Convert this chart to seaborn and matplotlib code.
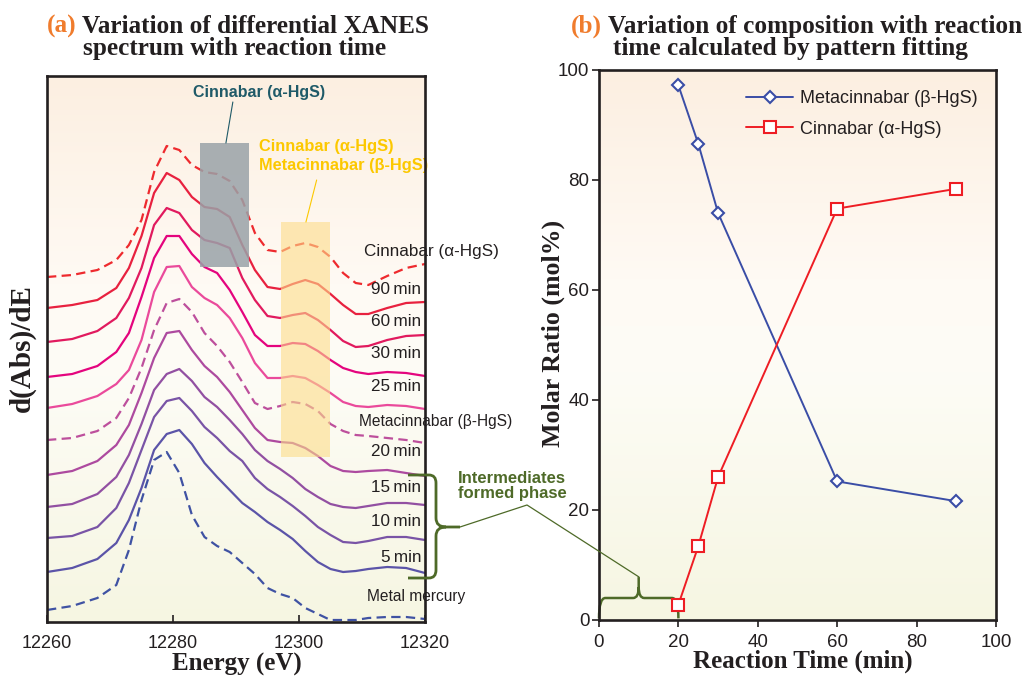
import numpy as np
import pandas as pd
import matplotlib
matplotlib.use("Agg")
import matplotlib.pyplot as plt
import seaborn as sns
from matplotlib.colors import LinearSegmentedColormap
from matplotlib.path import Path
from matplotlib.patches import PathPatch, Rectangle
from matplotlib.lines import Line2D

# ---------------- data: panel (a) differential XANES (offset arbitrary units) -------------
energy = [12260, 12264, 12268, 12271, 12273, 12275, 12277, 12279, 12281, 12283, 12285,
          12287, 12289, 12291, 12293, 12295, 12297, 12299, 12301, 12303, 12305, 12307,
          12309, 12311, 12314, 12317, 12320]

spec_cinnabar = [345, 347, 352, 362, 377, 402, 450, 476, 472, 457, 450, 448, 441, 422, 389,
                 372, 370, 376, 379, 375, 365, 349, 339, 337, 346, 354, 358]
spec_90min = [314, 317, 322, 334, 354, 386, 429, 449, 442, 425, 415, 413, 405, 377, 352,
              335, 333, 338, 342, 338, 328, 317, 308, 308, 314, 319, 320]
spec_60min = [280, 283, 291, 304, 324, 354, 397, 414, 409, 392, 382, 379, 374, 344, 322,
              306, 304, 307, 309, 302, 292, 281, 275, 276, 282, 286, 287]
spec_30min = [245, 248, 256, 270, 289, 325, 364, 386, 386, 368, 355, 349, 332, 310, 287,
              276, 276, 279, 278, 271, 262, 254, 250, 248, 250, 249, 246]
spec_25min = [214, 218, 226, 238, 252, 282, 330, 355, 356, 335, 324, 317, 304, 284, 259,
              244, 244, 246, 244, 237, 229, 220, 216, 215, 217, 216, 213]
spec_metacinnabar = [182, 184, 191, 204, 224, 254, 292, 319, 323, 310, 289, 276, 260, 240,
                     219, 213, 216, 220, 218, 211, 198, 191, 187, 186, 184, 182, 179]
spec_20min = [147, 151, 161, 177, 197, 229, 264, 289, 291, 272, 256, 245, 230, 212, 194,
              182, 180, 179, 174, 166, 156, 151, 150, 151, 152, 149, 146]
spec_15min = [115, 118, 128, 145, 167, 198, 232, 248, 253, 241, 225, 215, 202, 188, 172,
              161, 153, 144, 133, 125, 118, 115, 114, 116, 119, 119, 117]
spec_10min = [84, 86, 95, 114, 139, 172, 205, 221, 224, 211, 195, 184, 171, 161, 144, 133,
              125, 116, 106, 95, 87, 80, 79, 81, 85, 85, 82]
spec_5min = [50, 54, 63, 79, 102, 134, 172, 188, 192, 178, 159, 145, 132, 119, 110, 100,
             92, 83, 71, 60, 53, 50, 51, 53, 55, 54, 49]
spec_metal_hg = [12, 16, 24, 37, 72, 122, 162, 170, 149, 107, 85, 76, 70, 59, 48, 34, 28,
                 24, 14, 8, 2, 2, 2, 4, 5, 5, 3]

curve_labels = ["Cinnabar (α-HgS)", "90\u2009min", "60\u2009min", "30\u2009min", "25\u2009min",
                "Metacinnabar (β-HgS)", "20\u2009min", "15\u2009min", "10\u2009min", "5\u2009min",
                "Metal mercury"]
energy_ticks = [12260, 12280, 12300, 12320]

# ---------------- data: panel (b) composition ----------------
reaction_time = [20, 25, 30, 60, 90]
metacinnabar_pct = [97.2, 86.6, 74.0, 25.2, 21.6]
cinnabar_pct = [2.8, 13.4, 26.0, 74.8, 78.4]
time_ticks = [0, 20, 40, 60, 80, 100]
ratio_ticks = [0, 20, 40, 60, 80, 100]

# ---------------- styles ----------------
spectra = [spec_cinnabar, spec_90min, spec_60min, spec_30min, spec_25min, spec_metacinnabar,
           spec_20min, spec_15min, spec_10min, spec_5min, spec_metal_hg]
spec_colors = ["#ee2a2e", "#e8213f", "#e11a5e", "#e4047e", "#ea4a9b", "#bd4f9c",
               "#ad4a9f", "#9250a2", "#7954a6", "#5b54a8", "#3f52a3"]
spec_dashed = [True, False, False, False, False, True, False, False, False, False, True]

sns.set_theme(style="ticks")
plt.rcParams["font.family"] = ["Liberation Sans", "DejaVu Sans"]

W, H = 1027, 678
fig = plt.figure(figsize=(W / 100, H / 100), dpi=100)


def fx(px):
    return px / W


def fy(py):
    return 1 - py / H


axA = fig.add_axes([fx(47), fy(622), fx(425) - fx(47), fy(76) - fy(622)])
axB = fig.add_axes([fx(599), fy(620), fx(996) - fx(599), fy(70) - fy(620)])

bg_cmap = LinearSegmentedColormap.from_list(
    "bg", [(0.0, "#f6f6e2"), (0.45, "#fdfcf6"), (0.62, "#fffaf4"), (1.0, "#fcefe1")])


def gradient(ax, x0, x1, y0, y1):
    g = np.linspace(0, 1, 256).reshape(-1, 1)
    ax.imshow(g, extent=[x0, x1, y0, y1], origin="lower", aspect="auto",
              cmap=bg_cmap, zorder=0)


# ---------------- panel (a) ----------------
gradient(axA, 12260, 12320, 0, 546)
for vals, col, dashed in zip(spectra, spec_colors, spec_dashed):
    ls = (0, (4.2, 2.4)) if dashed else "-"
    sns.lineplot(x=energy, y=vals, ax=axA, color=col, linestyle=ls, linewidth=1.6,
                 zorder=2, solid_joinstyle="round", dash_joinstyle="round",
                 solid_capstyle="round")

axA.add_patch(Rectangle((12284.3, 355), 7.8, 124, facecolor="#99a2a8", alpha=0.85,
                        edgecolor="none", zorder=3))
axA.add_patch(Rectangle((12297.1, 165), 7.8, 235, facecolor="#fddc89", alpha=0.6,
                        edgecolor="none", zorder=3))

axA.text(12293.7, 530, "Cinnabar (α-HgS)", color="#1f5a68", fontsize=11.5,
         fontweight="bold", ha="center", va="center", zorder=5)
axA.plot([12289.5, 12288.4], [520, 479], color="#1f5a68", lw=0.8, zorder=5)
axA.text(12293.6, 466, "Cinnabar (α-HgS)\nMetacinnabar (β-HgS)", color="#fcc800",
         fontsize=11.8, fontweight="bold", ha="left", va="center", linespacing=1.4,
         zorder=5)
axA.plot([12302.8, 12301.1], [442, 400], color="#fcc800", lw=0.8, zorder=5)

label_x = [12310.3, 12319.4, 12319.4, 12319.4, 12319.4, 12309.5, 12319.4, 12319.4,
           12319.4, 12319.4, 12310.8]
label_y = [370, 332, 300, 268, 235, 200, 170, 135, 100, 64, 25]
for txt, lx, ly in zip(curve_labels, label_x, label_y):
    is_phase = not txt.endswith("min")
    axA.text(lx, ly, txt, fontsize=11.2 if txt.startswith("Meta") else 12.3,
             color="#231f20", ha="left" if is_phase else "right", va="center",
             clip_on=False, zorder=6)

axA.set_xlim(12260, 12320)
axA.set_ylim(0, 546)
axA.set_xticks(energy_ticks)
axA.set_xticklabels([str(t) for t in energy_ticks])
axA.set_yticks([])
axA.tick_params(axis="x", direction="in", length=5, width=1.2, pad=9, labelsize=13,
                colors="#231f20")
axA.set_xlabel("")
axA.set_ylabel("")
for s in axA.spines.values():
    s.set_linewidth(1.9)
    s.set_color("#231f20")
    s.set_zorder(7)

# ---------------- panel (b) ----------------
gradient(axB, 0, 100, 0, 100)
sns.lineplot(x=reaction_time, y=metacinnabar_pct, ax=axB, color="#3a4da6", linewidth=1.4,
             marker="D", markersize=6.5, markerfacecolor="white", markeredgecolor="#3a4da6",
             markeredgewidth=1.5, label="Metacinnabar (β-HgS)", zorder=4)
sns.lineplot(x=reaction_time, y=cinnabar_pct, ax=axB, color="#ee1d24", linewidth=1.4,
             marker="s", markersize=8.5, markerfacecolor="white", markeredgecolor="#ee1d24",
             markeredgewidth=1.5, label="Cinnabar (α-HgS)", zorder=4)
axB.set_xlim(0, 100)
axB.set_ylim(0, 100)
axB.set_xticks(time_ticks)
axB.set_yticks(ratio_ticks)
axB.tick_params(axis="both", direction="out", length=5, width=1.2, labelsize=13.5,
                colors="#231f20")
axB.tick_params(axis="x", pad=5)
axB.tick_params(axis="y", pad=2)
axB.set_xlabel("")
axB.set_ylabel("")
for s in axB.spines.values():
    s.set_linewidth(1.9)
    s.set_color("#231f20")
    s.set_zorder(7)
leg = axB.legend(loc="upper left", bbox_to_anchor=(0.33, 0.993), frameon=False,
                 fontsize=13, handlelength=2.6, labelspacing=0.75, handletextpad=0.4)
for t in leg.get_texts():
    t.set_color("#231f20")

# green brace in panel (b)
green = "#4e6a28"
bverts = [(0, 0.3), (0, 4.0), (1.6, 4.0), (8.6, 4.0), (10, 4.0), (10, 6.0), (10, 7.8),
          (10, 6.0), (10, 4.0), (11.4, 4.0), (18.4, 4.0), (20, 4.0), (20, 0.3)]
bcodes = [Path.MOVETO, Path.CURVE3, Path.CURVE3, Path.LINETO, Path.CURVE3, Path.CURVE3,
          Path.LINETO, Path.MOVETO, Path.CURVE3, Path.CURVE3, Path.LINETO, Path.CURVE3,
          Path.CURVE3]
axB.add_patch(PathPatch(Path(bverts, bcodes), fill=False, edgecolor=green, lw=1.8,
                        zorder=3, clip_on=False))

# green brace beside panel (a) and connector (figure pixels)
lb = [(408, 475), (429, 475), (436, 475), (436, 483), (436, 518), (436, 527), (446, 527),
      (460, 527), (446, 527), (436, 527), (436, 536), (436, 570), (436, 578), (429, 578),
      (408, 578)]
lcodes = [Path.MOVETO, Path.LINETO, Path.CURVE3, Path.CURVE3, Path.LINETO, Path.CURVE3,
          Path.CURVE3, Path.LINETO, Path.MOVETO, Path.CURVE3, Path.CURVE3, Path.LINETO,
          Path.CURVE3, Path.CURVE3, Path.LINETO]
fig.add_artist(PathPatch(Path([(fx(a), fy(b)) for a, b in lb], lcodes), fill=False,
                         edgecolor=green, lw=2.0, transform=fig.transFigure, zorder=8))
fig.add_artist(Line2D([fx(460), fx(527), fx(639)], [fy(527), fy(505), fy(577)],
                      color=green, lw=0.9, transform=fig.transFigure, zorder=8))
fig.text(fx(512), fy(486), "Intermediates\nformed phase", color=green, fontsize=12,
         fontweight="bold", ha="center", va="center", linespacing=1.0)

# ---------------- titles and axis labels ----------------
serif = ["Liberation Serif", "DejaVu Serif"]
tk = dict(family=serif, fontweight="bold", fontsize=18.2, va="baseline", color="#231f20")
fig.text(fx(47), fy(33), "(a)", **{**tk, "color": "#f07c2d"})
fig.text(fx(82), fy(33), "Variation of differential XANES", **tk)
fig.text(fx(83), fy(55), "spectrum with reaction time", **tk)
fig.text(fx(571), fy(33), "(b)", **{**tk, "color": "#f07c2d"})
fig.text(fx(608), fy(33), "Variation of composition with reaction", **tk)
fig.text(fx(613), fy(55), "time calculated by pattern fitting", **tk)

lk = dict(family=serif, fontweight="bold", color="#231f20", ha="center", va="center")
fig.text(fx(237), fy(664), "Energy (eV)", fontsize=18, **lk)
fig.text(fx(803), fy(661), "Reaction Time (min)", fontsize=18, **lk)
fig.text(fx(22), fy(348), "d(Abs)/dE", rotation=90, fontsize=21, **lk)
fig.text(fx(553), fy(333), "Molar Ratio (mol%)", rotation=90, fontsize=18.6, **lk)

fig.savefig("out.png", dpi=100, facecolor="white")
